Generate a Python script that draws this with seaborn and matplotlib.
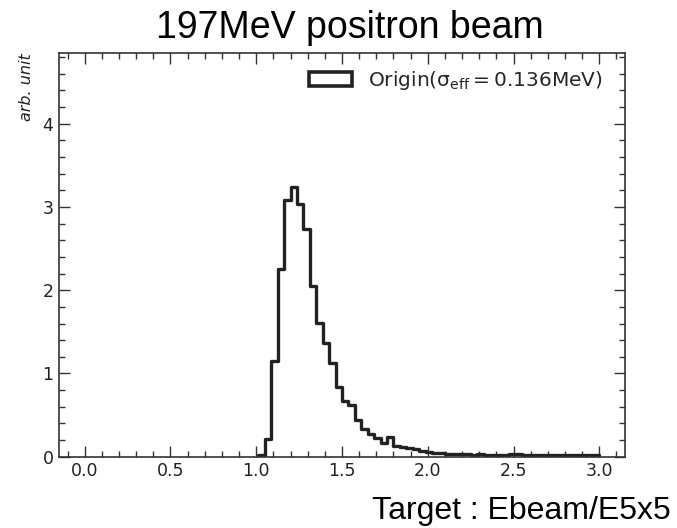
import numpy as np
import pandas as pd
import matplotlib
matplotlib.use("Agg")
import matplotlib.pyplot as plt
import matplotlib.patches as mpatches
from matplotlib.ticker import MultipleLocator
import seaborn as sns

# ---- data (normalised counts per bin) ----
bin_width = 0.0375
first_edge = 1.0125
last_edge = 3.0
heights = [0.02, 0.21, 1.15, 2.25, 3.08, 3.24, 3.04, 2.73, 2.05, 1.61,
           1.37, 1.12, 0.84, 0.67, 0.62, 0.44, 0.33, 0.27, 0.23, 0.17,
           0.24, 0.13, 0.12, 0.11, 0.09, 0.07, 0.055, 0.05, 0.04, 0.035,
           0.03, 0.035, 0.03, 0.025, 0.03, 0.025, 0.02, 0.02, 0.02, 0.035,
           0.035, 0.02, 0.02, 0.025, 0.02, 0.02, 0.025, 0.02, 0.02, 0.015,
           0.02, 0.02, 0.015]
centers = first_edge + bin_width * (np.arange(len(heights)) + 0.5)

title = "197MeV positron beam"
footer = "Target : Ebeam/E5x5"
ylabel = "arb. unit"
legend_label = r"Origin($\mathrm{\sigma_{eff} = 0.136MeV}$)"
xticks = [0.0, 0.5, 1.0, 1.5, 2.0, 2.5, 3.0]
yticks = [0, 1, 2, 3, 4]

df = pd.DataFrame({"E": centers, "w": heights})

sns.set_style("ticks")
plt.rcParams["font.family"] = ["DejaVu Sans"]

fig = plt.figure(figsize=(6.77, 5.28), dpi=100)
ax = fig.add_axes([59 / 677, 1 - 456.7 / 528, (625 - 59) / 677, (456.7 - 53) / 528])

line_color = "#222222"
sns.histplot(data=df, x="E", weights="w", binwidth=bin_width,
             binrange=(first_edge, last_edge), element="step", fill=False,
             color=line_color, linewidth=2.4, ax=ax)

ax.set_xlim(-0.15, 3.15)
ax.set_ylim(0, 4.85)
ax.set_xticks(xticks)
ax.set_xticklabels([f"{t:.1f}" for t in xticks])
ax.set_yticks(yticks)
ax.xaxis.set_minor_locator(MultipleLocator(0.1))
ax.yaxis.set_minor_locator(MultipleLocator(0.2))
ax.tick_params(which="both", direction="in", top=True, right=True,
               color="#333333", labelcolor="#222222", labelsize=12.5, width=1.0)
ax.tick_params(which="major", length=8, pad=4)
ax.tick_params(which="minor", length=4.5)
for s in ax.spines.values():
    s.set_color("#333333")
    s.set_linewidth(1.2)

ax.set_xlabel("")
ax.set_ylabel(ylabel, loc="top", fontstyle="italic", fontsize=11.5,
              color="#222222", labelpad=6)

handle = mpatches.Patch(facecolor="none", edgecolor=line_color, linewidth=2.6,
                        label=legend_label)
ax.legend(handles=[handle], loc="upper right", bbox_to_anchor=(1 - 6 / 566, 1),
          frameon=False, fontsize=14.5,
          handlelength=2.15, handleheight=0.65, handletextpad=0.8,
          borderaxespad=0.4, borderpad=0.4)

fig.text(350 / 677, 1 - 38 / 528, title, ha="center", va="baseline",
         fontsize=27, family="Liberation Sans", color="black")
fig.text(372 / 677, 1 - 519 / 528, footer, ha="left", va="baseline",
         fontsize=23, family="Liberation Sans", color="black")

fig.savefig("out.png", dpi=100)
